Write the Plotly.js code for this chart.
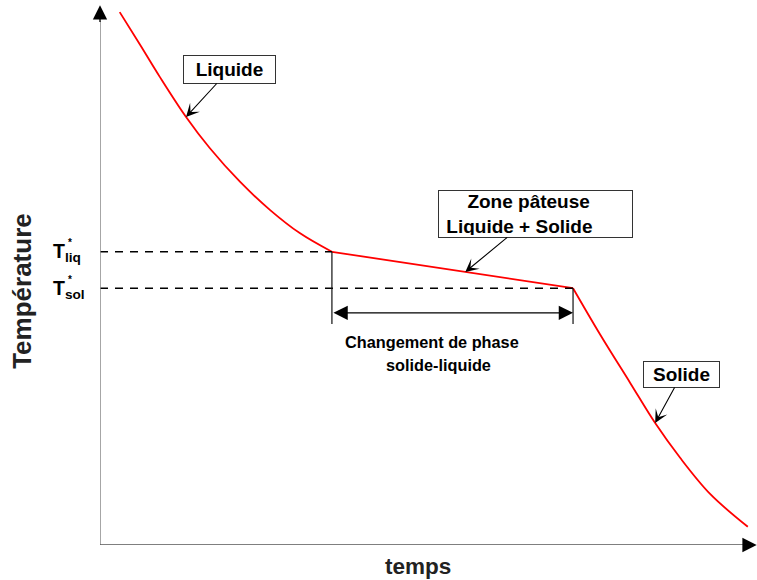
<!DOCTYPE html>
<html><head><meta charset="utf-8">
<script src="https://cdn.plot.ly/plotly-3.0.1.min.js"></script>
<style>html,body{margin:0;padding:0;background:#fff}</style>
</head><body><div id="chart" style="width:757px;height:580px"></div>
<script>
// Cooling curve (arbitrary units: time 0..10, temperature 0..10)
const liquidTime = [0.30, 0.61, 0.91, 1.31, 1.67, 2.13, 2.59, 3.04, 3.53];
const liquidTemp = [9.96, 9.35, 8.75, 8.00, 7.42, 6.79, 6.26, 5.83, 5.48];
const mushyTime = [3.53, 7.20];
const mushyTemp = [5.48, 4.80];
const solidTime = [7.20, 7.61, 8.07, 8.45, 8.83, 9.29, 9.86];
const solidTemp = [4.80, 3.94, 3.03, 2.28, 1.63, 0.95, 0.34];
const tLiq = 5.48, tSol = 4.80;
const phaseStart = 3.53, phaseEnd = 7.20;
const bracketLow = 4.13, bracketArrow = 4.34;
const zoneTipTime = 5.56;
const labels = {
  liquid: 'Liquide',
  zone: 'Zone pâteuse',
  zone2: 'Liquide + Solide',
  solid: 'Solide',
  change1: 'Changement de phase',
  change2: 'solide-liquide',
  tLiq: 'liq',
  tSol: 'sol',
  yTitle: 'Température',
  xTitle: 'temps'
};

const FONT = 'Liberation Sans, Arial, Helvetica, sans-serif';
const RED = '#ff0000';
const zoneTipTemp = mushyTemp[0] + (zoneTipTime - mushyTime[0]) / (mushyTime[1] - mushyTime[0]) * (mushyTemp[1] - mushyTemp[0]);

const traces = [
  {x: liquidTime, y: liquidTemp, mode: 'lines', line: {color: RED, width: 1.8, shape: 'spline'}},
  {x: mushyTime, y: mushyTemp, mode: 'lines', line: {color: RED, width: 1.8}},
  {x: solidTime, y: solidTemp, mode: 'lines', line: {color: RED, width: 1.8, shape: 'spline'}},
  {x: [0, phaseStart], y: [tLiq, tLiq], mode: 'lines', line: {color: '#000', width: 1.6, dash: '8px,7px'}},
  {x: [0, phaseEnd], y: [tSol, tSol], mode: 'lines', line: {color: '#000', width: 1.6, dash: '8px,7px'}},
  {x: [phaseStart, phaseStart], y: [tLiq, bracketLow], mode: 'lines', line: {color: '#111', width: 1.2}},
  {x: [phaseEnd, phaseEnd], y: [tSol, bracketLow], mode: 'lines', line: {color: '#111', width: 1.2}}
];

const boxFont = {family: FONT, size: 19, color: '#000'};
const boxArrow = {showarrow: true, arrowhead: 3, arrowsize: 2, arrowwidth: 1.1, arrowcolor: '#000',
  bordercolor: '#333', borderwidth: 1, bgcolor: '#fff'};
const starFont = {family: FONT, size: 10, color: '#000'};
const tFont = {family: FONT, size: 19.5, color: '#000'};
const annotations = [
  // axis arrowheads
  {x: 0, y: 10.09, ax: 0, ay: 9.75, axref: 'x', ayref: 'y', xref: 'x', yref: 'y', text: '',
   showarrow: true, arrowhead: 2, arrowsize: 2.2, arrowwidth: 1.3, arrowcolor: '#000'},
  {x: 9.995, y: 0, ax: 9.78, ay: 0, axref: 'x', ayref: 'y', xref: 'x', yref: 'y', text: '',
   showarrow: true, arrowhead: 2, arrowsize: 2.2, arrowwidth: 1.3, arrowcolor: '#000'},
  // double arrow for phase change
  {x: phaseEnd, y: bracketArrow, ax: phaseStart, ay: bracketArrow, axref: 'x', ayref: 'y', xref: 'x', yref: 'y', text: '',
   showarrow: true, arrowhead: 2, arrowside: 'end+start', arrowsize: 2.2, arrowwidth: 1.3, arrowcolor: '#000'},
  {x: 5.053, y: 3.794, xref: 'x', yref: 'y', xanchor: 'center', yanchor: 'middle', showarrow: false,
   text: '<b>' + labels.change1 + '</b>', font: {family: FONT, size: 16.3, color: '#000'}},
  {x: 5.145, y: 3.364, xref: 'x', yref: 'y', xanchor: 'center', yanchor: 'middle', showarrow: false,
   text: '<b>' + labels.change2 + '</b>', font: {family: FONT, size: 16.3, color: '#000'}},
  // labelled boxes
  Object.assign({x: liquidTime[3], y: liquidTemp[3], xref: 'x', yref: 'y', ax: 43.5, ay: -47.5,
   text: '<b>' + labels.liquid + '</b>', font: boxFont, borderpad: 1, width: 89, height: 25}, boxArrow),
  Object.assign({x: zoneTipTime, y: zoneTipTemp, xref: 'x', yref: 'y', ax: 70.5, ay: -58,
   text: '<b>&nbsp;&nbsp;&nbsp;&nbsp;&nbsp;' + labels.zone + '<br>&nbsp;' + labels.zone2 + '</b>', font: boxFont, align: 'left',
   borderpad: 2, width: 189, height: 42}, boxArrow),
  Object.assign({x: solidTime[3], y: solidTemp[3], xref: 'x', yref: 'y', ax: 26.5, ay: -48.5,
   text: '<b>' + labels.solid + '</b>', font: boxFont, borderpad: 1, width: 73, height: 23}, boxArrow),
  // T labels
  {x: 0, y: tLiq, xref: 'x', yref: 'y', xanchor: 'right', yanchor: 'middle', xshift: -17, yshift: -1, showarrow: false,
   text: '<b>T<sub>' + labels.tLiq + '</sub></b>', font: tFont},
  {x: 0, y: tLiq, xref: 'x', yref: 'y', xanchor: 'center', yanchor: 'middle', xshift: -30, yshift: 9, showarrow: false,
   text: '<b>*</b>', font: starFont},
  {x: 0, y: tSol, xref: 'x', yref: 'y', xanchor: 'right', yanchor: 'middle', xshift: -13, yshift: -1, showarrow: false,
   text: '<b>T<sub>' + labels.tSol + '</sub></b>', font: tFont},
  {x: 0, y: tSol, xref: 'x', yref: 'y', xanchor: 'center', yanchor: 'middle', xshift: -30, yshift: 9, showarrow: false,
   text: '<b>*</b>', font: starFont},
  // axis titles
  {x: -0.119, y: 0.466, xref: 'paper', yref: 'paper', xanchor: 'center', yanchor: 'middle', showarrow: false, textangle: -90,
   text: '<b>' + labels.yTitle + '</b>', font: {family: FONT, size: 26, color: '#222'}},
  {x: 0.484, y: -0.040, xref: 'paper', yref: 'paper', xanchor: 'center', yanchor: 'middle', showarrow: false,
   text: '<b>' + labels.xTitle + '</b>', font: {family: FONT, size: 22.5, color: '#222'}}
];

const shapes = [
  {type: 'line', xref: 'x', yref: 'y', x0: 0, x1: 0, y0: 0, y1: 9.8, line: {color: '#888', width: 1.5}},
  {type: 'line', xref: 'x', yref: 'y', x0: 0, x1: 9.8, y0: 0, y1: 0, line: {color: '#555', width: 1.3}}
];

const layout = {
  width: 757, height: 580,
  margin: {l: 100, r: 0, t: 0, b: 35},
  paper_bgcolor: '#fff', plot_bgcolor: '#fff',
  showlegend: false,
  xaxis: {range: [0, 10], visible: false, fixedrange: true},
  yaxis: {range: [0, 10.187], visible: false, fixedrange: true},
  annotations: annotations,
  shapes: shapes,
  font: {family: FONT}
};

Plotly.newPlot('chart', traces, layout, {displayModeBar: false, staticPlot: true});
</script></body></html>
